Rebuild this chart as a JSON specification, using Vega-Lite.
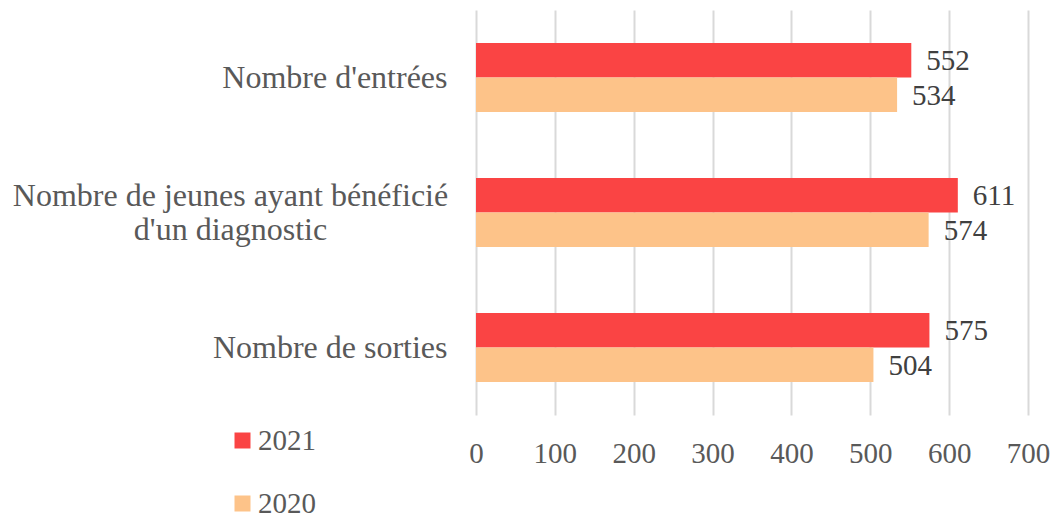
{
  "$schema": "https://vega.github.io/schema/vega-lite/v6.json",
  "autosize": {"type": "none"},
  "padding": {"left": 476, "top": 10, "right": 26, "bottom": 102},
  "width": 552,
  "height": 405,
  "background": "white",
  "config": {
    "font": "Liberation Serif",
    "view": {"stroke": null}
  },
  "data": {
    "values": [
      {"categorie": "Nombre d'entrées", "annee": "2021", "valeur": 552},
      {"categorie": "Nombre d'entrées", "annee": "2020", "valeur": 534},
      {"categorie": "Nombre de jeunes ayant bénéficié d'un diagnostic", "annee": "2021", "valeur": 611},
      {"categorie": "Nombre de jeunes ayant bénéficié d'un diagnostic", "annee": "2020", "valeur": 574},
      {"categorie": "Nombre de sorties", "annee": "2021", "valeur": 575},
      {"categorie": "Nombre de sorties", "annee": "2020", "valeur": 504}
    ]
  },
  "encoding": {
    "y": {
      "field": "categorie",
      "type": "nominal",
      "sort": null,
      "title": null,
      "scale": {"paddingInner": 0.49, "paddingOuter": 0.245},
      "axis": {
        "domain": false,
        "ticks": false,
        "labelFontSize": 32,
        "labelColor": "#595959",
        "labelPadding": {"condition": {"test": "length(datum.label) > 30", "value": 246}, "value": 29},
        "labelLimit": 600,
        "labelLineHeight": 34,
        "labelAlign": {"condition": {"test": "length(datum.label) > 30", "value": "center"}, "value": "right"},
        "labelOffset": {"condition": {"test": "length(datum.label) > 30", "value": -17}, "value": 0},
        "labelExpr": "length(datum.value) > 30 ? ['Nombre de jeunes ayant bénéficié', \"d'un diagnostic\"] : datum.value"
      }
    },
    "yOffset": {"field": "annee", "type": "nominal", "sort": ["2021", "2020"]},
    "x": {
      "field": "valeur",
      "type": "quantitative",
      "title": null,
      "scale": {"domain": [0, 700]},
      "axis": {
        "values": [0, 100, 200, 300, 400, 500, 600, 700],
        "domain": false,
        "ticks": false,
        "grid": true,
        "gridColor": "#d9d9d9",
        "gridWidth": 2,
        "labelFontSize": 29,
        "labelColor": "#595959",
        "labelPadding": 24,
        "labelFlush": false
      }
    }
  },
  "layer": [
    {
      "mark": {"type": "bar"},
      "encoding": {
        "color": {
          "field": "annee",
          "type": "nominal",
          "scale": {"domain": ["2021", "2020"], "range": ["#fa4444", "#fdc389"]},
          "legend": {
            "title": null,
            "orient": "none",
            "legendX": -248,
            "legendY": 416,
            "symbolType": "square",
            "symbolSize": 256,
            "symbolStrokeWidth": 0,
            "labelFontSize": 29,
            "labelColor": "#595959",
            "labelOffset": 1,
            "rowPadding": 33
          }
        }
      }
    },
    {
      "mark": {"type": "text", "align": "left", "baseline": "middle", "dx": 15, "dy": 1, "fontSize": 29, "color": "#404040"},
      "encoding": {
        "text": {"field": "valeur", "type": "quantitative"}
      }
    }
  ]
}
